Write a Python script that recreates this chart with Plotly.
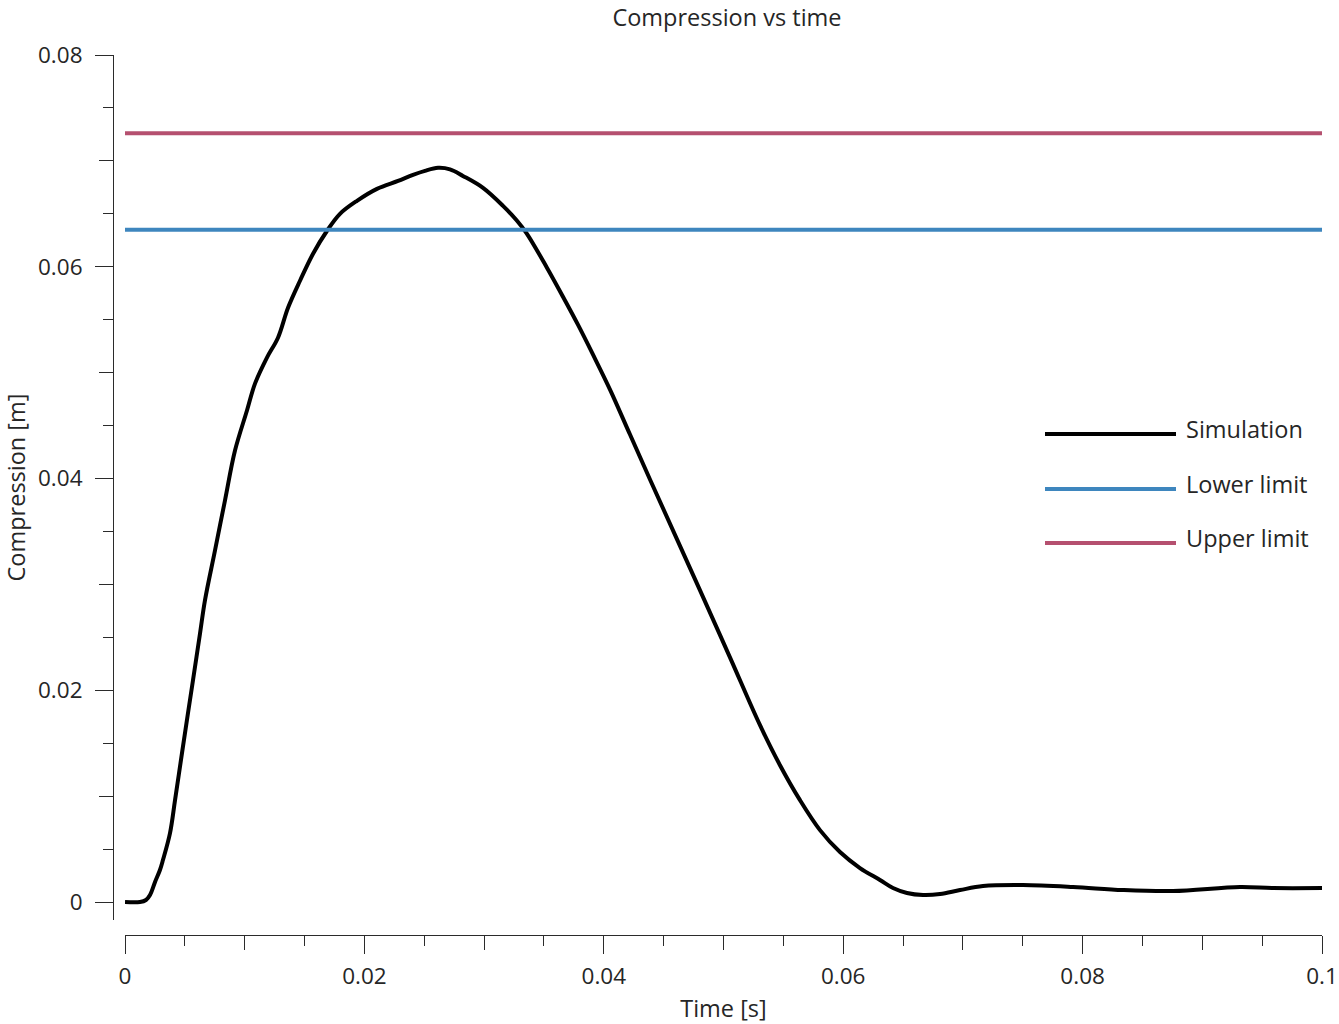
import plotly.graph_objects as go

# ---- data ----
time_s = [0, 0.00125, 0.00175, 0.00209, 0.00251, 0.00292, 0.00317, 0.00376, 0.00418,
          0.00476, 0.00526, 0.00568, 0.00627, 0.00668, 0.00752, 0.00835, 0.00919,
          0.01019, 0.01086, 0.01186, 0.01278, 0.01362, 0.01462, 0.01571, 0.01688,
          0.01796, 0.01938, 0.02105, 0.02281, 0.02406, 0.02506, 0.02615, 0.02715,
          0.02823, 0.02991, 0.03158, 0.03275, 0.03358, 0.03525, 0.03659, 0.03784,
          0.03910, 0.04052, 0.04219, 0.04386, 0.04804, 0.05054, 0.05305, 0.05472,
          0.05639, 0.05806, 0.05973, 0.06140, 0.06307, 0.06416, 0.06533, 0.06667,
          0.06809, 0.06976, 0.07168, 0.07502, 0.0792, 0.08338, 0.08755, 0.09315,
          0.09591, 0.1]
compression_m = [0, 0, 0.00019, 0.00066, 0.00189, 0.00302, 0.00396, 0.00651, 0.00962,
                 0.01406, 0.01783, 0.02094, 0.02538, 0.02849, 0.03321, 0.03792, 0.04264,
                 0.04642, 0.04896, 0.05142, 0.0533, 0.05613, 0.05868, 0.06123, 0.0634,
                 0.065, 0.06623, 0.06736, 0.06811, 0.06868, 0.06906, 0.06934, 0.06920,
                 0.06858, 0.06745, 0.06575, 0.06434, 0.06311, 0.05991, 0.05717, 0.05453,
                 0.05170, 0.04840, 0.04415, 0.03991, 0.02943, 0.02311, 0.0167, 0.01292,
                 0.00962, 0.00679, 0.00472, 0.00321, 0.00208, 0.00132, 0.00085, 0.00066,
                 0.00075, 0.00113, 0.00151, 0.0016, 0.00142, 0.00113, 0.00104, 0.00142,
                 0.00132, 0.00132]
limit_time = [0, 0.1]
lower_limit = 0.0635
upper_limit = 0.0726

series_names = ["Simulation", "Lower limit", "Upper limit"]
series_colors = ["#000000", "#3E86BE", "#B5506F"]

x_major = [0, 0.02, 0.04, 0.06, 0.08, 0.1]
x_major_text = ["0", "0.02", "0.04", "0.06", "0.08", "0.1"]
x_mid = [0.01 * i for i in range(11)]
y_major = [0, 0.02, 0.04, 0.06, 0.08]
y_major_text = ["0", "0.02", "0.04", "0.06", "0.08"]
y_mid = [0.01 * i for i in range(9)]

# ---- layout geometry ----
W, H = 1339, 1024
ML, MR, MT, MB = 113, 17, 55, 89
PW, PH = W - ML - MR, H - MT - MB
xdom0 = 12 / PW
ydom0 = 15 / PH
XR = [0, 0.1]
YR = [-0.0017, 0.08]

FONT = "Open Sans"
TXT = "#262626"
AX = "#2b2b2b"
FS = 23.5
TFS = 22.5

fig = go.Figure()
fig.add_trace(go.Scatter(x=time_s, y=compression_m, mode="lines",
                         line=dict(color=series_colors[0], width=4, shape="spline", smoothing=1.0),
                         name=series_names[0], xaxis="x", yaxis="y", showlegend=False))
fig.add_trace(go.Scatter(x=limit_time, y=[lower_limit] * 2, mode="lines",
                         line=dict(color=series_colors[1], width=4),
                         name=series_names[1], xaxis="x2", yaxis="y2", showlegend=False))
fig.add_trace(go.Scatter(x=limit_time, y=[upper_limit] * 2, mode="lines",
                         line=dict(color=series_colors[2], width=4),
                         name=series_names[2], xaxis="x2", yaxis="y2", showlegend=False))

common = dict(showgrid=False, zeroline=False, ticks="outside", tickcolor=AX, tickwidth=1.2,
              automargin=False)

fig.update_layout(
    width=W, height=H, margin=dict(l=ML, r=MR, t=MT, b=MB, autoexpand=False),
    paper_bgcolor="white", plot_bgcolor="white",
    font=dict(family=FONT, color=TXT, size=FS),
    title=dict(text="Compression vs time", x=(727 - ML) / PW, xref="paper", xanchor="center",
               y=1 - 18 / H, yref="container", yanchor="middle",
               font=dict(size=FS, color=TXT, family=FONT), automargin=False),
    xaxis=dict(range=XR, domain=[xdom0, 1], anchor="free", position=0, showline=True,
               linecolor=AX, linewidth=1.2, tickmode="array", tickvals=x_mid, ticklen=14,
               showticklabels=False,
               minor=dict(dtick=0.005, tick0=0, ticklen=10, ticks="outside", tickcolor=AX, tickwidth=1.2),
               **common),
    xaxis2=dict(range=XR, domain=[xdom0, 1], anchor="free", position=0, overlaying="x",
                showline=False, tickmode="array", tickvals=x_major, ticktext=x_major_text,
                ticklen=18, tickfont=dict(size=TFS, color=TXT), ticklabelstandoff=3,
                title=dict(text="Time [s]", font=dict(size=FS, color=TXT), standoff=16),
                **common),
    yaxis=dict(range=YR, domain=[ydom0, 1], anchor="free", position=0, showline=True,
               linecolor=AX, linewidth=1.2, tickmode="array", tickvals=y_mid, ticklen=14,
               showticklabels=False,
               minor=dict(dtick=0.005, tick0=0, ticklen=10, ticks="outside", tickcolor=AX, tickwidth=1.2),
               **common),
    yaxis2=dict(range=YR, domain=[ydom0, 1], anchor="free", position=0, overlaying="y",
                showline=False, tickmode="array", tickvals=y_major, ticktext=y_major_text,
                ticklen=18, tickfont=dict(size=TFS, color=TXT), ticklabelstandoff=8,
                title=dict(text="Compression [m]", font=dict(size=FS, color=TXT), standoff=8),
                **common),
)

# ---- custom legend (long line samples as in the reference) ----
leg_x0 = (1045 - ML) / PW
leg_x1 = (1176 - ML) / PW
leg_tx = (1186 - ML) / PW
leg_rows = [434, 489, 543]
for name, color, ypx in zip(series_names, series_colors, leg_rows):
    yp = (MT + PH - ypx) / PH
    fig.add_shape(type="line", xref="paper", yref="paper", x0=leg_x0, x1=leg_x1, y0=yp, y1=yp,
                  line=dict(color=color, width=4))
    fig.add_annotation(xref="paper", yref="paper", x=leg_tx, y=yp + 5 / PH, text=name,
                       showarrow=False, xanchor="left", yanchor="middle", xshift=-2,
                       font=dict(size=FS, color=TXT, family=FONT))

fig.write_html("out.html")
